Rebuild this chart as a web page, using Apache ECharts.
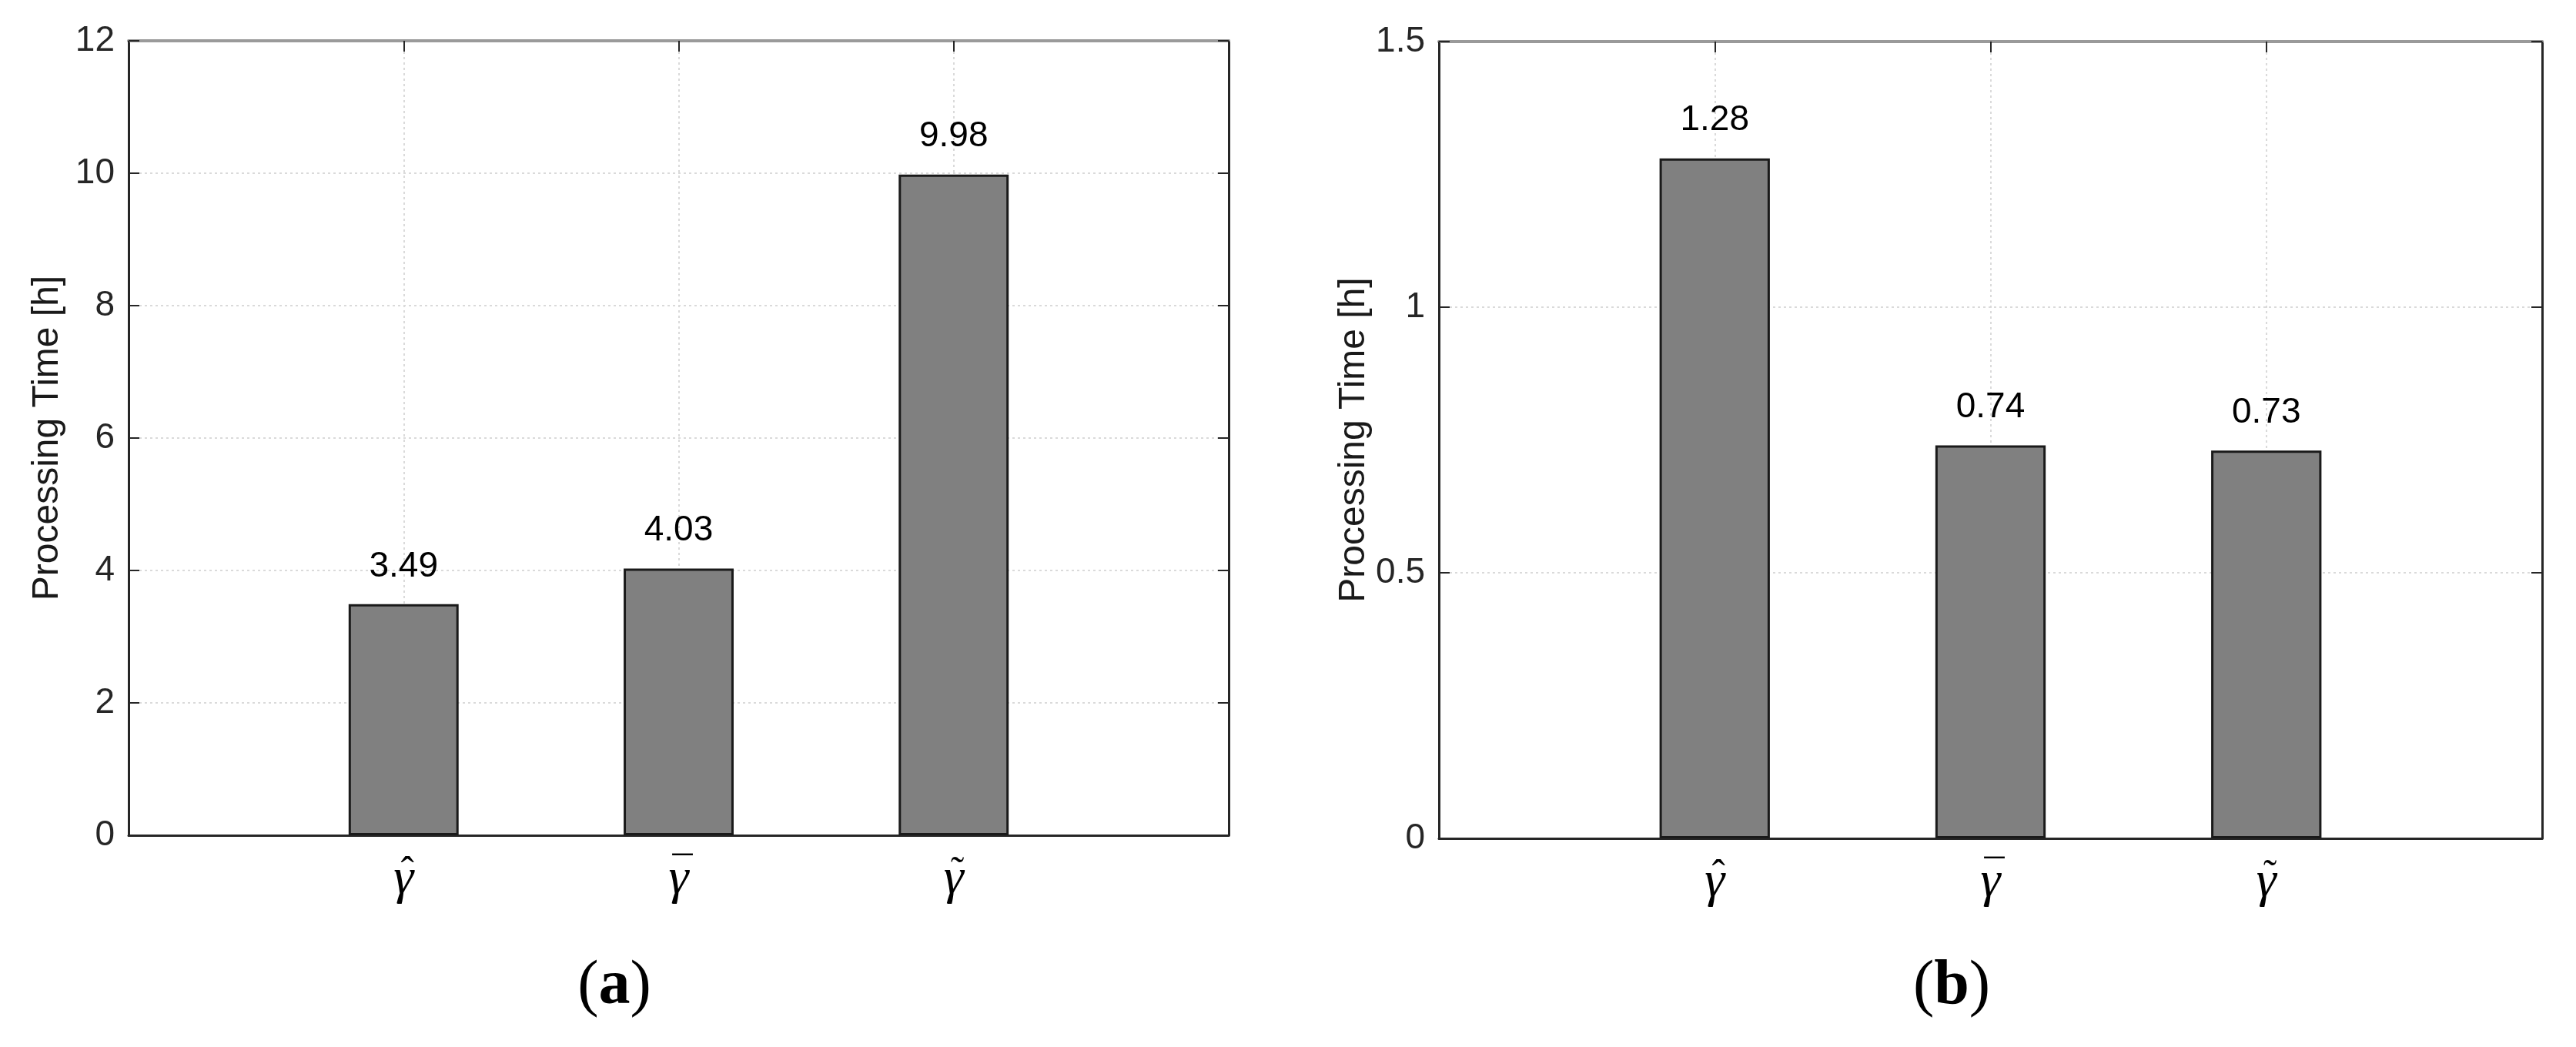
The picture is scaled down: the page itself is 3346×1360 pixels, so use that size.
<!DOCTYPE html>
<html>
<head>
<meta charset="utf-8">
<script src="https://cdn.jsdelivr.net/npm/echarts@6/dist/echarts.min.js"></script>
<style>
  html, body { margin: 0; padding: 0; background: #fff; }
  #chart { width: 3346px; height: 1360px; }
</style>
</head>
<body>
<div id="chart"></div>
<script>
// categories: gamma with hat, bar and tilde accents
let categoryBase = ["\u03b3", "\u03b3", "\u03b3"];
let categoryAccent = ["\u02c6", "\u00af", "\u02dc"];
let positions = [1, 2, 3];
// processing time [h]
let timeA = [3.49, 4.03, 9.98];
let timeB = [1.28, 0.74, 0.73];
// y axis ranges: min, max, interval
let yRangeA = [0, 12, 2];
let yRangeB = [0, 1.5, 0.5];
let xRange = [0, 4, 1];

let gridA = { left: 167, top: 53, width: 1429, height: 1032 };
let gridB = { left: 1869, top: 54, width: 1433, height: 1035 };

let darkLine = "#262626";
let gridLine = "#dadada";
let labelFont = "Liberation Sans";

function pickLabel(list) {
  return function (v) {
    let i = positions.indexOf(v);
    return i >= 0 ? list[i] : "";
  };
}

function makeXAxes(gridIndex) {
  let base = {
    gridIndex: gridIndex,
    type: "value",
    min: xRange[0],
    max: xRange[1],
    interval: xRange[2],
  };
  return [
    // gamma letters, axis line, ticks and vertical grid
    Object.assign({}, base, {
      position: "bottom",
      axisLine: { onZero: false, lineStyle: { color: darkLine, width: 3 } },
      axisTick: { inside: true, length: 14, lineStyle: { color: darkLine, width: 2 } },
      axisLabel: {
        margin: 25,
        fontFamily: "Liberation Serif",
        fontStyle: "italic",
        fontSize: 66,
        color: "#000",
        formatter: pickLabel(categoryBase),
      },
      splitLine: { show: true, lineStyle: { color: gridLine, width: 2, type: [3, 4] } },
    }),
    // accents above the gamma letters
    Object.assign({}, base, {
      position: "bottom",
      axisLine: { show: false, onZero: false },
      axisTick: { show: false },
      axisLabel: {
        margin: 24,
        fontFamily: "Liberation Serif",
        fontSize: 52,
        color: "#000",
        padding: [0, 0, 0, 10],
        formatter: pickLabel(categoryAccent),
      },
      splitLine: { show: false },
    }),
    // top frame
    Object.assign({}, base, {
      position: "top",
      axisLine: { onZero: false, lineStyle: { color: "#9a9a9a", width: 4 } },
      axisTick: { inside: true, length: 14, lineStyle: { color: darkLine, width: 2 } },
      axisLabel: { show: false },
      splitLine: { show: false },
    }),
  ];
}

function makeYAxes(gridIndex, range) {
  return [
    {
      gridIndex: gridIndex,
      type: "value",
      min: range[0],
      max: range[1],
      interval: range[2],
      position: "left",
      name: "Processing Time [h]",
      nameLocation: "middle",
      nameGap: 81,
      nameTextStyle: { fontFamily: labelFont, fontSize: 48, color: "#1a1a1a" },
      axisLine: { show: true, onZero: false, lineStyle: { color: darkLine, width: 3 } },
      axisTick: { show: true, inside: true, length: 14, lineStyle: { color: darkLine, width: 2 } },
      axisLabel: { margin: 18, fontFamily: labelFont, fontSize: 46, color: darkLine },
      splitLine: { show: true, lineStyle: { color: gridLine, width: 2, type: [3, 4] } },
    },
    {
      gridIndex: gridIndex,
      type: "value",
      min: range[0],
      max: range[1],
      interval: range[2],
      position: "right",
      axisLine: { show: true, onZero: false, lineStyle: { color: darkLine, width: 3 } },
      axisTick: { show: true, inside: true, length: 14, lineStyle: { color: darkLine, width: 2 } },
      axisLabel: { show: false },
      splitLine: { show: false },
    },
  ];
}

function makeBars(values, xIndex, yIndex, grid) {
  return {
    type: "bar",
    xAxisIndex: xIndex,
    yAxisIndex: yIndex,
    data: values.map((v, i) => [positions[i], v]),
    barWidth: (grid.width / (xRange[1] - xRange[0])) * 0.4,
    itemStyle: { color: "#808080", borderColor: "#1a1a1a", borderWidth: 3 },
    label: {
      show: true,
      position: "top",
      distance: 26,
      fontFamily: labelFont,
      fontSize: 46,
      color: "#000",
      formatter: (p) => p.value[1].toFixed(2),
    },
    animation: false,
    z: 3,
  };
}

function caption(letter, x) {
  return {
    type: "text",
    x: x,
    y: 1282,
    style: {
      text: "{p|(}{b|" + letter + "}{p|)}",
      align: "center",
      verticalAlign: "middle",
      rich: {
        p: { fontFamily: "Liberation Serif", fontSize: 82, fill: "#000" },
        b: { fontFamily: "Liberation Serif", fontSize: 82, fontWeight: "bold", fill: "#000" },
      },
    },
  };
}

let chart = echarts.init(document.getElementById("chart"));

chart.setOption({
  backgroundColor: "#fff",
  animation: false,
  grid: [gridA, gridB],
  xAxis: makeXAxes(0).concat(makeXAxes(1)),
  yAxis: makeYAxes(0, yRangeA).concat(makeYAxes(1, yRangeB)),
  series: [makeBars(timeA, 0, 0, gridA), makeBars(timeB, 3, 2, gridB)],
  graphic: [caption("a", 798), caption("b", 2535)],
});
</script>
</body>
</html>
